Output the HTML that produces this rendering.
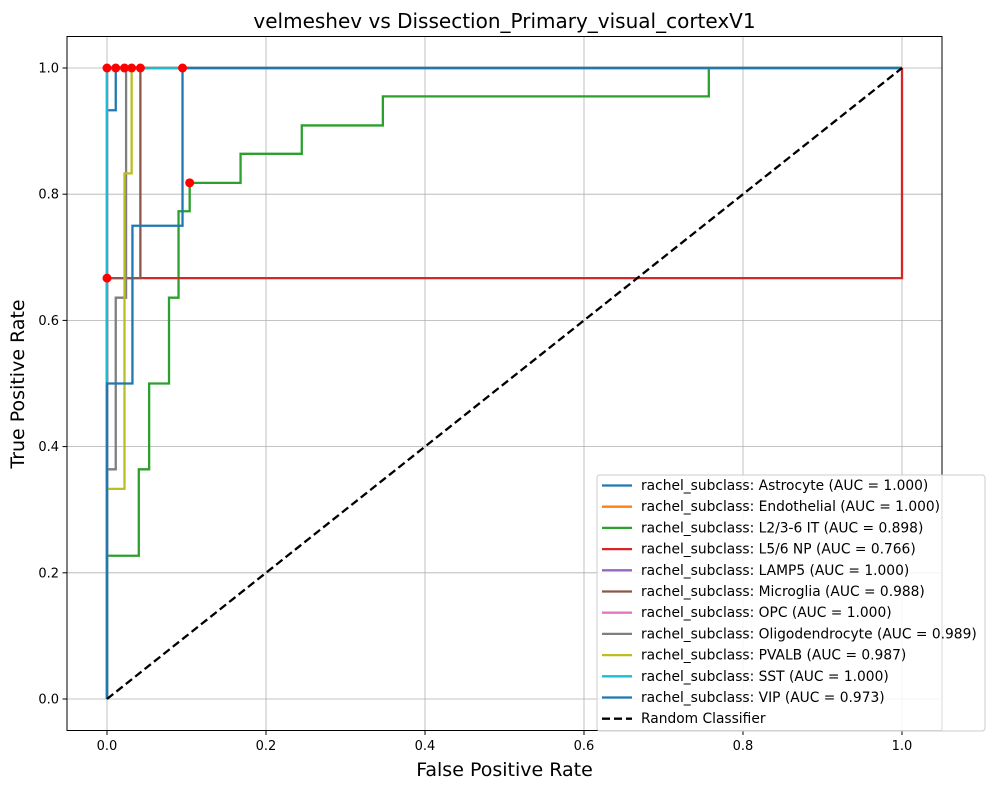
<!DOCTYPE html>
<html><head><meta charset="utf-8"><style>
body{margin:0;background:#fff;font-family:"Liberation Sans","DejaVu Sans",sans-serif}
</style></head><body>
<svg id="chart" width="994" height="790" xmlns="http://www.w3.org/2000/svg" font-family="DejaVu Sans, Liberation Sans, sans-serif">
<rect width="994" height="790" fill="#fff"/>
<text x="504.5" y="28" font-size="20" text-anchor="middle">velmeshev vs Dissection_Primary_visual_cortexV1</text>
<g id="grid"></g>
<g id="series"></g>
<g id="dots"></g>
<rect x="67" y="36.5" width="875" height="694" fill="none" stroke="#000" stroke-width="1"/>
<g id="ticks"></g>
<text x="504.5" y="776" font-size="19" text-anchor="middle">False Positive Rate</text>
<text transform="translate(24,384) rotate(-90)" font-size="19" text-anchor="middle">True Positive Rate</text>
<g id="legend"></g>
</svg>
<script>
const ticks=[0,0.2,0.4,0.6,0.8,1.0];
const tickLabels=["0.0","0.2","0.4","0.6","0.8","1.0"];
const seriesNames=["rachel_subclass: Astrocyte (AUC = 1.000)","rachel_subclass: Endothelial (AUC = 1.000)","rachel_subclass: L2/3-6 IT (AUC = 0.898)","rachel_subclass: L5/6 NP (AUC = 0.766)","rachel_subclass: LAMP5 (AUC = 1.000)","rachel_subclass: Microglia (AUC = 0.988)","rachel_subclass: OPC (AUC = 1.000)","rachel_subclass: Oligodendrocyte (AUC = 0.989)","rachel_subclass: PVALB (AUC = 0.987)","rachel_subclass: SST (AUC = 1.000)","rachel_subclass: VIP (AUC = 0.973)"];
const colors=["#1f77b4","#ff7f0e","#2ca02c","#d62728","#9467bd","#8c564b","#e377c2","#7f7f7f","#bcbd22","#17becf","#1f77b4"];
const fprAstro=[0,0,0.011,0.011,1];const tprAstro=[0,0.933,0.933,1,1];
const fprEndo=[0,0,1];const tprEndo=[0,1,1];
const fprIT=[0,0,0.04,0.04,0.053,0.053,0.078,0.078,0.09,0.09,0.104,0.104,0.168,0.168,0.245,0.245,0.347,0.347,0.757,0.757,1];
const tprIT=[0,0.227,0.227,0.364,0.364,0.5,0.5,0.636,0.636,0.773,0.773,0.818,0.818,0.864,0.864,0.909,0.909,0.955,0.955,1,1];
const fprNP=[0,0,1,1];const tprNP=[0,0.667,0.667,1];
const fprLAMP=[0,0,1];const tprLAMP=[0,1,1];
const fprMicro=[0,0,0.042,0.042,1];const tprMicro=[0,0.667,0.667,1,1];
const fprOPC=[0,0,1];const tprOPC=[0,1,1];
const fprOligo=[0,0,0.011,0.011,0.024,0.024,1];const tprOligo=[0,0.364,0.364,0.636,0.636,1,1];
const fprPV=[0,0,0.022,0.022,0.031,0.031,1];const tprPV=[0,0.333,0.333,0.833,0.833,1,1];
const fprSST=[0,0,1];const tprSST=[0,1,1];
const fprVIP=[0,0,0.032,0.032,0.095,0.095,1];const tprVIP=[0,0.5,0.5,0.75,0.75,1,1];
const dotFpr=[0,0.011,0.022,0.031,0.042,0.095,0.104,0];
const dotTpr=[1,1,1,1,1,1,0.818,0.667];
const allF=[fprAstro,fprEndo,fprIT,fprNP,fprLAMP,fprMicro,fprOPC,fprOligo,fprPV,fprSST,fprVIP];
const allT=[tprAstro,tprEndo,tprIT,tprNP,tprLAMP,tprMicro,tprOPC,tprOligo,tprPV,tprSST,tprVIP];
const NS="http://www.w3.org/2000/svg";
const X=v=>107+795*v, Y=v=>699-631*v;
function mk(t,a,p){const e=document.createElementNS(NS,t);for(const k in a)e.setAttribute(k,a[k]);p.appendChild(e);return e;}
const G=document.getElementById('grid'),S=document.getElementById('series'),D=document.getElementById('dots'),T=document.getElementById('ticks'),L=document.getElementById('legend');
ticks.forEach((t,i)=>{
 let g=mk('line',{x1:X(t),x2:X(t),y1:36.5,y2:730.5,stroke:'#b0b0b0','stroke-width':0.8},G);
 
 g=mk('line',{x1:67,x2:942,y1:Y(t),y2:Y(t),stroke:'#b0b0b0','stroke-width':0.8},G);
 
 mk('line',{x1:X(t),x2:X(t),y1:730.5,y2:735,stroke:'#000'},T);
 let tx=mk('text',{x:X(t),y:750,'font-size':13,'text-anchor':'middle'},T);tx.textContent=tickLabels[i];
 
 mk('line',{x1:62.5,x2:67,y1:Y(t),y2:Y(t),stroke:'#000'},T);
 tx=mk('text',{x:59,y:Y(t)+4.5,'font-size':13,'text-anchor':'end'},T);tx.textContent=tickLabels[i];
 
});
allF.forEach((f,i)=>{
 const pts=f.map((v,j)=>X(v)+','+Y(allT[i][j])).join(' ');
 const p=mk('polyline',{points:pts,fill:'none',stroke:colors[i],'stroke-width':2.3},S);
 
});
const diag=mk('line',{x1:X(0),y1:Y(0),x2:X(1),y2:Y(1),stroke:'#000','stroke-width':2.3,'stroke-dasharray':'8,4'},S);

dotFpr.forEach((f,i)=>{
 const c=mk('circle',{cx:X(f),cy:Y(dotTpr[i]),r:4.5,fill:'#ff0000'},D);
 
});
const lb=mk('rect',{x:597,y:475,width:388,height:256,fill:'#fff','fill-opacity':0.85,stroke:'#ccc',rx:3},L);

const names=seriesNames.concat(["Random Classifier"]);
names.forEach((n,i)=>{
 const y=485.5+i*21.2;
 const g=mk('g',{},L);
 
 const a={x1:602,x2:632,y1:y,y2:y,stroke:i<11?colors[i]:'#000','stroke-width':2.3};
 if(i==11)a['stroke-dasharray']='8,4';
 mk('line',a,g);
 const t=mk('text',{x:641,y:y+4.5,'font-size':13.8},g);t.textContent=n;
});
</script>
</body></html>
